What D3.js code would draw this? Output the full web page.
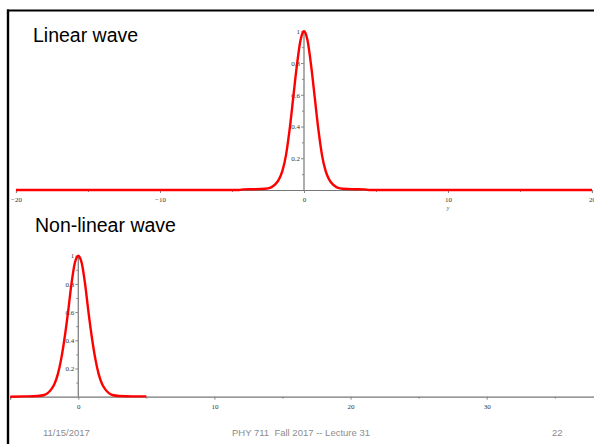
<!DOCTYPE html>
<html>
<head>
<meta charset="utf-8">
<title>Linear / non-linear wave</title>
<script src="https://cdn.jsdelivr.net/npm/d3@7"></script>
<style>
  body { margin: 0; background: #fff; }
  svg text { font-family: "Liberation Sans", Arial, sans-serif; }
  .tick text { font-family: "Liberation Serif", "Times New Roman", serif; font-size: 7px; fill: #333; }
  .tick line { stroke: #888; }
</style>
</head>
<body>
<div id="chart"></div>
<script>
// values
var linX = [-20, -4.5, -4.2, -3.5, -3, -2.5, -2.25, -2, -1.75, -1.5, -1.25, -1, -0.75, -0.5, -0.25, -0.1, 0, 0.1, 0.25, 0.5, 0.75, 1, 1.25, 1.5, 1.75, 2, 2.25, 2.5, 3, 3.5, 4.2, 4.5, 20];
var linY = [0, 0, 0.004, 0.005, 0.006, 0.01, 0.018, 0.035, 0.065, 0.12, 0.22, 0.38, 0.58, 0.78, 0.94, 0.99, 1, 0.99, 0.94, 0.78, 0.58, 0.38, 0.22, 0.12, 0.065, 0.035, 0.018, 0.01, 0.006, 0.005, 0.004, 0, 0];

var nlX = [-5, -4, -3, -2.5, -2.25, -2, -1.75, -1.5, -1.25, -1, -0.75, -0.5, -0.25, -0.1, 0, 0.1, 0.25, 0.5, 0.75, 1, 1.25, 1.5, 1.75, 2, 2.25, 2.5, 3, 4, 5];
var nlY = [0, 0.002, 0.005, 0.012, 0.025, 0.05, 0.09, 0.16, 0.27, 0.42, 0.6, 0.8, 0.95, 0.99, 1, 0.99, 0.95, 0.8, 0.6, 0.42, 0.27, 0.16, 0.09, 0.05, 0.025, 0.012, 0.005, 0.002, 0.002];

var topXTicks = [-20, -10, 0, 10, 20];
var topXMinor = [-15, -5, 5, 15];
var botXTicks = [0, 10, 20, 30];
var botXMinor = [5, 15, 25, 35];
var yTicks = [0.2, 0.4, 0.6, 0.8, 1];
var yMinor = [0.1, 0.3, 0.5, 0.7, 0.9];

var W = 594, H = 444;
var svg = d3.select("#chart").append("svg").attr("width", W).attr("height", H);

// slide frame (top + left edge)
svg.append("line").attr("x1", 7).attr("x2", W).attr("y1", 10.5).attr("y2", 10.5)
  .attr("stroke", "#000").attr("stroke-width", 2.2);
svg.append("line").attr("x1", 8).attr("x2", 8).attr("y1", 9.5).attr("y2", H)
  .attr("stroke", "#000").attr("stroke-width", 2.4);

function panel(opt) {
  var g = svg.append("g");
  var x = d3.scaleLinear().domain(opt.xDomain).range(opt.xRange);
  var y = d3.scaleLinear().domain([0, 1]).range(opt.yRange);

  // x axis
  var xa = g.append("g").attr("transform", "translate(0," + y(0) + ")")
    .call(d3.axisBottom(x).tickValues(opt.xTicks).tickSize(3).tickPadding(4)
      .tickFormat(function(d) { return d < 0 ? "\u2212" + Math.abs(d) : d; }));
  xa.select(".domain").attr("stroke", "#777").attr("stroke-width", 1.2);
  xa.selectAll(".tick text").attr("fill", "#333");
  g.append("g").attr("transform", "translate(0," + y(0) + ")")
    .call(d3.axisBottom(x).tickValues(opt.xMinor).tickSize(2).tickFormat(""))
    .select(".domain").remove();

  // y axis
  var ya = g.append("g").attr("transform", "translate(" + x(0) + ",0)")
    .call(d3.axisLeft(y).tickValues(yTicks).tickSize(3).tickPadding(1)
      .tickFormat(function(d) { return d === 1 ? "1" : d3.format(".1f")(d); }));
  ya.select(".domain").attr("stroke", "#777").attr("stroke-width", 1.2)
    .attr("d", "M0," + y(0) + "V" + y(1));
  ya.selectAll(".tick text").attr("fill", "#333");
  g.append("g").attr("transform", "translate(" + x(0) + ",0)")
    .call(d3.axisLeft(y).tickValues(yMinor).tickSize(2).tickFormat(""))
    .select(".domain").remove();

  var line = d3.line().x(function(d) { return x(d[0]); }).y(function(d) { return y(d[1]); })
    .curve(d3.curveMonotoneX);
  g.append("path").datum(d3.zip(opt.xs, opt.ys)).attr("d", line)
    .attr("fill", "none").attr("stroke", "#ff0000").attr("stroke-width", 2.4)
    .attr("stroke-linejoin", "round");
  return { x: x, y: y, g: g };
}

var p1 = panel({ xDomain: [-20, 20], xRange: [16, 592], yRange: [190, 31.3],
  xTicks: topXTicks, xMinor: topXMinor, xs: linX, ys: linY });
p1.g.append("text").attr("x", p1.x(10)).attr("y", 210).attr("text-anchor", "middle")
  .style("font-family", "Liberation Serif, serif").style("font-style", "italic")
  .style("font-size", "6px").attr("fill", "#555").text("y");

var p2 = panel({ xDomain: [-5, 38], xRange: [10.2, 595.6], yRange: [396.7, 255.7],
  xTicks: botXTicks, xMinor: botXMinor, xs: nlX, ys: nlY });

svg.append("text").attr("x", 33).attr("y", 42).style("font-size", "19.5px").attr("fill", "#000")
  .text("Linear wave");
svg.append("text").attr("x", 35).attr("y", 232).style("font-size", "19.5px").attr("fill", "#000")
  .text("Non-linear wave");

var foot = svg.append("g").style("font-size", "9.5px").attr("fill", "#8c8c8c");
foot.append("text").attr("x", 43).attr("y", 436).text("11/15/2017");
foot.append("text").attr("x", 232).attr("y", 436).attr("xml:space", "preserve")
  .text("PHY 711  Fall 2017 -- Lecture 31");
foot.append("text").attr("x", 552).attr("y", 436).text("22");
</script>
</body>
</html>
